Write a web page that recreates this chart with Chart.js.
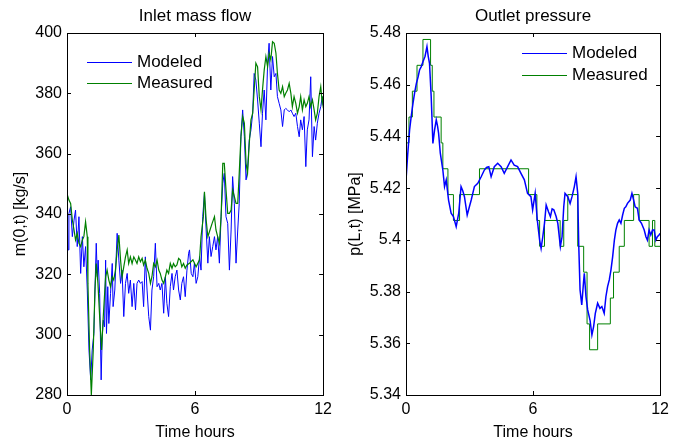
<!DOCTYPE html>
<html>
<head>
<meta charset="UTF-8">
<title>Inlet mass flow / Outlet pressure</title>
<script src="https://cdn.jsdelivr.net/npm/chart.js"></script>
<style>
    body { margin: 0; background: #fff; }
    .box { position: absolute; top: 0; width: 337px; height: 444px; }
</style>
</head>
<body>
<div class="box" style="left:0"><canvas id="chartFlow" width="337" height="444"></canvas></div>
<div class="box" style="left:337px"><canvas id="chartPress" width="337" height="444"></canvas></div>
<script>
// time axis (hours)
var timeTicks = [0, 6, 12];

// inlet mass flow [kg/s]
var flowTicks = [280, 300, 320, 340, 360, 380, 400];
var flowModT = [0, 0.02, 0.05, 0.09, 0.17, 0.25, 0.33, 0.40, 0.48, 0.56, 0.64, 0.72, 0.79, 0.87, 0.95, 1.03, 1.11, 1.18, 1.26, 1.31,
    1.37, 1.42, 1.46, 1.53, 1.60, 1.65, 1.70, 1.76, 1.81, 1.85, 1.91, 1.96, 2.04, 2.12, 2.16, 2.24, 2.35, 2.43, 2.51, 2.58,
    2.66, 2.74, 2.82, 2.89, 2.97, 3.05, 3.13, 3.21, 3.28, 3.36, 3.44, 3.52, 3.59, 3.67, 3.75, 3.83, 3.91, 3.98, 4.06, 4.14,
    4.22, 4.30, 4.37, 4.45, 4.53, 4.61, 4.68, 4.76, 4.84, 4.92, 4.99, 5.07, 5.15, 5.23, 5.31, 5.38, 5.46, 5.54, 5.62, 5.70,
    5.74, 5.82, 5.90, 5.97, 6.05, 6.13, 6.21, 6.28, 6.36, 6.44, 6.52, 6.60, 6.67, 6.75, 6.83, 6.91, 6.98, 7.06, 7.14, 7.22,
    7.30, 7.37, 7.45, 7.53, 7.61, 7.69, 7.76, 7.84, 7.92, 8.00, 8.07, 8.15, 8.23, 8.31, 8.39, 8.46, 8.54, 8.62, 8.70, 8.77,
    8.85, 8.93, 9.01, 9.09, 9.16, 9.24, 9.32, 9.40, 9.47, 9.55, 9.63, 9.71, 9.79, 9.86, 9.94, 10.02, 10.10, 10.18, 10.25, 10.33,
    10.41, 10.49, 10.56, 10.64, 10.72, 10.80, 10.88, 10.95, 11.03, 11.11, 11.19, 11.26, 11.34, 11.42, 11.50, 11.58, 11.65, 11.73, 11.81, 11.89,
    11.96, 12.0];
var flowModV = [328.0, 336.9, 328.1, 340.2, 342.4, 332.5, 338.0, 341.3, 329.2, 339.1, 320.3, 332.5, 322.5, 329.2, 314.8, 294.9, 285.0, 294.9, 300.4, 314.8,
    330.3, 319.2, 324.7, 313.7, 285.0, 299.3, 304.8, 302.6, 324.7, 300.4, 315.9, 303.7, 313.7, 323.6, 309.3, 314.8, 333.6, 324.7, 317.0, 321.4,
    306.0, 317.0, 320.3, 313.7, 318.1, 309.3, 317.0, 308.2, 317.0, 318.1, 317.0, 317.6, 309.3, 325.8, 314.8, 306.0, 301.5, 314.8, 319.2, 330.3,
    315.9, 317.0, 314.8, 317.0, 307.1, 319.2, 310.4, 306.0, 315.9, 320.3, 314.8, 319.2, 321.4, 314.8, 311.5, 317.0, 319.2, 312.6, 321.4, 327.0,
    328.1, 320.3, 319.2, 323.7, 317.0, 319.2, 325.9, 321.4, 339.1, 346.9, 334.7, 323.7, 332.5, 325.9, 329.2, 332.5, 328.1, 332.5, 323.7, 339.1,
    350.2, 353.5, 339.1, 336.9, 321.4, 334.7, 352.4, 343.5, 323.7, 334.7, 343.5, 365.6, 374.5, 365.6, 351.3, 354.6, 364.5, 367.9, 373.4, 386.6,
    384.4, 377.8, 370.1, 362.3, 373.4, 381.1, 371.2, 390.0, 396.6, 381.1, 392.2, 385.5, 386.6, 378.9, 376.7, 374.5, 369.0, 374.5, 375.0, 374.5,
    373.9, 374.5, 373.4, 372.3, 373.4, 369.0, 365.6, 371.2, 367.9, 372.3, 355.7, 367.9, 371.2, 385.5, 359.0, 369.0, 364.5, 370.1, 373.4, 375.6,
    378.9, 376.0];
var flowMeasT = [0, 0.02, 0.09, 0.17, 0.25, 0.33, 0.40, 0.48, 0.56, 0.64, 0.72, 0.79, 0.87, 0.95, 0.98, 1.06, 1.14, 1.23, 1.31, 1.37,
    1.45, 1.53, 1.62, 1.70, 1.81, 1.88, 1.96, 2.04, 2.12, 2.19, 2.27, 2.35, 2.43, 2.51, 2.58, 2.66, 2.74, 2.82, 2.89, 2.97,
    3.05, 3.13, 3.21, 3.28, 3.36, 3.44, 3.52, 3.59, 3.67, 3.75, 3.83, 3.91, 3.98, 4.06, 4.14, 4.22, 4.30, 4.37, 4.45, 4.53,
    4.61, 4.68, 4.76, 4.84, 4.92, 4.99, 5.07, 5.15, 5.23, 5.31, 5.38, 5.46, 5.54, 5.62, 5.74, 5.90, 6.05, 6.21, 6.28, 6.39,
    6.44, 6.52, 6.60, 6.70, 6.80, 6.91, 6.98, 7.06, 7.14, 7.22, 7.30, 7.37, 7.45, 7.53, 7.61, 7.69, 7.76, 7.84, 7.92, 8.00,
    8.07, 8.15, 8.23, 8.31, 8.39, 8.46, 8.54, 8.62, 8.70, 8.77, 8.85, 8.93, 9.01, 9.09, 9.16, 9.24, 9.32, 9.40, 9.47, 9.55,
    9.63, 9.71, 9.79, 9.86, 9.94, 10.02, 10.10, 10.18, 10.25, 10.33, 10.41, 10.49, 10.56, 10.64, 10.72, 10.80, 10.88, 10.95, 11.03, 11.11,
    11.19, 11.26, 11.34, 11.42, 11.50, 11.58, 11.65, 11.73, 11.81, 11.89, 11.96, 12.0];
var flowMeasV = [338.0, 346.3, 344.6, 343.5, 338.0, 334.7, 331.4, 333.6, 330.3, 329.2, 331.4, 332.5, 337.4, 332.5, 317.0, 294.9, 280.0, 294.9, 314.8, 323.6,
    317.0, 306.0, 294.9, 306.0, 319.2, 321.4, 318.1, 315.9, 319.2, 318.1, 321.4, 328.1, 333.0, 324.7, 319.2, 322.5, 325.8, 328.1, 323.6, 325.8,
    323.6, 325.8, 324.7, 323.6, 325.8, 324.2, 325.3, 323.1, 324.7, 322.0, 320.3, 317.0, 319.2, 323.6, 322.5, 324.7, 321.4, 320.3, 318.1, 317.0,
    319.2, 321.4, 320.3, 323.6, 322.0, 323.6, 322.5, 323.1, 325.3, 324.7, 322.5, 323.6, 322.0, 323.1, 323.7, 324.8, 322.5, 324.8, 332.5, 339.1,
    347.4, 338.0, 332.5, 334.7, 336.9, 339.1, 334.7, 332.5, 330.3, 339.1, 356.8, 356.8, 348.0, 340.2, 340.2, 341.3, 348.0, 345.8, 343.5, 343.5,
    353.5, 365.6, 372.3, 370.1, 356.8, 353.5, 363.4, 371.2, 373.4, 381.1, 390.0, 388.8, 378.9, 374.5, 381.1, 387.7, 392.2, 388.8, 393.3, 391.1,
    397.1, 396.6, 393.3, 386.6, 381.1, 380.0, 382.2, 378.9, 380.0, 381.1, 383.3, 380.0, 375.6, 378.9, 376.7, 373.4, 375.6, 378.9, 374.5, 377.8,
    375.6, 376.7, 378.9, 375.6, 377.8, 374.5, 371.2, 373.4, 378.9, 382.2, 376.7, 379.0];

// outlet pressure [MPa]
var pressTicks = [5.34, 5.36, 5.38, 5.40, 5.42, 5.44, 5.46, 5.48];
var pressModT = [0, 0.08, 0.17, 0.25, 0.33, 0.41, 0.49, 0.57, 0.64, 0.72, 0.80, 0.90, 0.99, 1.05, 1.11, 1.19, 1.27, 1.35, 1.43, 1.49,
    1.54, 1.62, 1.74, 1.82, 1.90, 2.01, 2.13, 2.24, 2.37, 2.49, 2.60, 2.68, 2.76, 2.89, 3.00, 3.08, 3.23, 3.39, 3.55, 3.70,
    3.80, 3.91, 4.02, 4.17, 4.33, 4.49, 4.64, 4.80, 4.96, 5.11, 5.27, 5.43, 5.59, 5.74, 5.90, 5.98, 6.10, 6.20, 6.31, 6.38,
    6.46, 6.54, 6.62, 6.73, 6.82, 6.90, 6.98, 7.09, 7.17, 7.29, 7.37, 7.45, 7.51, 7.64, 7.75, 7.84, 7.95, 8.03, 8.11, 8.16,
    8.22, 8.30, 8.38, 8.42, 8.50, 8.58, 8.69, 8.78, 8.86, 8.94, 9.05, 9.16, 9.25, 9.36, 9.44, 9.52, 9.60, 9.68, 9.76, 9.84,
    9.91, 9.99, 10.07, 10.15, 10.23, 10.31, 10.38, 10.46, 10.59, 10.67, 10.75, 10.82, 10.93, 11.01, 11.12, 11.25, 11.33, 11.40, 11.48, 11.56,
    11.64, 11.72, 11.80, 11.87, 11.95, 12.0];
var pressModV = [5.4230, 5.4330, 5.4425, 5.4480, 5.4528, 5.4570, 5.4605, 5.4630, 5.4657, 5.4670, 5.4689, 5.4710, 5.4747, 5.4710, 5.4683, 5.4554, 5.4373, 5.4425, 5.4464, 5.4440,
    5.4412, 5.4335, 5.4270, 5.4206, 5.4232, 5.4154, 5.4103, 5.4090, 5.4051, 5.4103, 5.4206, 5.4190, 5.4167, 5.4096, 5.4130, 5.4154, 5.4206, 5.4219, 5.4244, 5.4270,
    5.4280, 5.4283, 5.4244, 5.4283, 5.4296, 5.4283, 5.4257, 5.4283, 5.4309, 5.4289, 5.4283, 5.4257, 5.4232, 5.4180, 5.4167, 5.4116, 5.4180, 5.4077, 5.3999, 5.3967,
    5.4012, 5.4064, 5.4135, 5.4109, 5.4090, 5.4120, 5.4116, 5.4090, 5.4064, 5.3974, 5.4012, 5.4128, 5.4180, 5.4167, 5.4141, 5.4167, 5.4206, 5.4244, 5.4180, 5.3974,
    5.3806, 5.3748, 5.3832, 5.3871, 5.3780, 5.3729, 5.3690, 5.3632, 5.3664, 5.3716, 5.3755, 5.3735, 5.3742, 5.3716, 5.3780, 5.3819, 5.3845, 5.3884, 5.3935, 5.3999,
    5.4038, 5.4064, 5.4077, 5.4064, 5.4096, 5.4122, 5.4128, 5.4141, 5.4154, 5.4180, 5.4154, 5.4128, 5.4122, 5.4077, 5.4064, 5.4038, 5.4012, 5.3999, 5.4038, 5.4019,
    5.4038, 5.4038, 5.3999, 5.4012, 5.4019, 5.4025];
var pressMeasT = [0, 0.14, 0.30, 0.52, 0.80, 1.16, 1.24, 1.32, 1.66, 1.74, 1.98, 2.24, 2.53, 3.47, 5.79, 6.18, 6.31, 6.54, 7.28, 7.45,
    7.64, 8.11, 8.39, 8.55, 8.67, 9.05, 9.65, 9.80, 10.07, 10.31, 10.75, 11.01, 11.48, 11.64, 11.75, 12.0];
var pressMeasV = [5.4375, 5.4475, 5.4575, 5.4675, 5.4775, 5.4675, 5.4575, 5.4475, 5.4375, 5.4275, 5.4175, 5.4075, 5.4175, 5.4275, 5.4175, 5.4075, 5.3975, 5.4075, 5.3975, 5.4075,
    5.4175, 5.3975, 5.3875, 5.3675, 5.3575, 5.3675, 5.3775, 5.3875, 5.3975, 5.4075, 5.4175, 5.4075, 5.3975, 5.4075, 5.3975, 5.3975];

var FONT = "'Liberation Sans', Arial, Helvetica, sans-serif";

function pares(xs, ys) {
    return xs.map(function (x, i) { return { x: x, y: ys[i] }; });
}

// moldura preta com ticks para dentro nos 4 lados (estilo matlab) + titulo centrado no grafico
var moldura = {
    id: 'moldura',
    afterDraw: function (chart, args, opts) {
        var ctx = chart.ctx, a = chart.chartArea;
        var sx = chart.scales.x, sy = chart.scales.y;
        ctx.save();
        ctx.strokeStyle = '#000';
        ctx.lineWidth = 1;
        ctx.beginPath();
        sx.ticks.forEach(function (t) {
            var px = Math.round(sx.getPixelForValue(t.value)) + 0.5;
            ctx.moveTo(px, a.bottom); ctx.lineTo(px, a.bottom - 4);
            ctx.moveTo(px, a.top); ctx.lineTo(px, a.top + 4);
        });
        sy.ticks.forEach(function (t) {
            var py = Math.round(sy.getPixelForValue(t.value)) + 0.5;
            ctx.moveTo(a.left, py); ctx.lineTo(a.left + 4, py);
            ctx.moveTo(a.right, py); ctx.lineTo(a.right - 4, py);
        });
        ctx.stroke();
        ctx.strokeRect(Math.round(a.left) + 0.5, Math.round(a.top) + 0.5, Math.round(a.right - a.left), Math.round(a.bottom - a.top));

        ctx.fillStyle = '#000';
        ctx.font = '17px ' + FONT;
        ctx.textAlign = 'center';
        ctx.textBaseline = 'middle';
        ctx.fillText(opts.titulo, (a.left + a.right) / 2, 16);
        ctx.restore();
    }
};

// legenda dentro do grafico, sem caixa
var legenda = {
    id: 'legenda',
    afterDraw: function (chart, args, opts) {
        var ctx = chart.ctx;
        ctx.save();
        ctx.font = '17px ' + FONT;
        ctx.textBaseline = 'middle';
        ctx.fillStyle = '#000';
        chart.data.datasets.forEach(function (ds, i) {
            var y = opts.y + i * opts.gap;
            ctx.strokeStyle = ds.borderColor;
            ctx.lineWidth = 1;
            ctx.beginPath();
            ctx.moveTo(opts.x, Math.round(y) + 0.5);
            ctx.lineTo(opts.x + 45, Math.round(y) + 0.5);
            ctx.stroke();
            ctx.fillText(ds.label, opts.x + 50, y);
        });
        ctx.restore();
    }
};

function montar(canvasId, titulo, yLabel, yTicks, yMin, yMax, yWidth, yTitlePad, dsets, leg, fmt) {
    return new Chart(document.getElementById(canvasId), {
        type: 'line',
        data: { datasets: dsets },
        options: {
            responsive: false,
            animation: false,
            events: [],
            layout: { autoPadding: false, padding: { left: 0, right: 13, top: 33, bottom: 0 } },
            elements: { point: { radius: 0 }, line: { tension: 0 } },
            plugins: {
                legend: { display: false },
                tooltip: { enabled: false },
                moldura: { titulo: titulo },
                legenda: leg
            },
            scales: {
                x: {
                    type: 'linear', min: 0, max: 12,
                    afterBuildTicks: function (s) { s.ticks = timeTicks.map(function (v) { return { value: v }; }); },
                    afterFit: function (s) { s.height = 49; },
                    grid: { display: false, drawTicks: false },
                    border: { display: false },
                    ticks: { color: '#000', padding: 5, maxRotation: 0, font: { family: FONT, size: 16 } },
                    title: { display: true, text: 'Time hours', color: '#000', font: { family: FONT, size: 16 }, padding: { top: 0, bottom: 2 } }
                },
                y: {
                    type: 'linear', min: yMin, max: yMax,
                    afterBuildTicks: function (s) { s.ticks = yTicks.map(function (v) { return { value: v }; }); },
                    afterFit: function (s) { s.width = yWidth; },
                    grid: { display: false, drawTicks: false },
                    border: { display: false },
                    ticks: { color: '#000', padding: 5, font: { family: FONT, size: 16 }, callback: fmt },
                    title: { display: true, text: yLabel, color: '#000', font: { family: FONT, size: 16 }, padding: { top: yTitlePad, bottom: 0 } }
                }
            }
        },
        plugins: [moldura, legenda]
    });
}

montar('chartFlow', 'Inlet mass flow', 'm(0,t) [kg/s]', flowTicks, 280, 400, 67, 11, [
    { label: 'Modeled', data: pares(flowModT, flowModV), borderColor: '#0000ff', borderWidth: 1, order: 1 },
    { label: 'Measured', data: pares(flowMeasT, flowMeasV), borderColor: '#008000', borderWidth: 1.2, order: 0 }
], { x: 87, y: 62, gap: 21 }, function (v) { return String(v); });

montar('chartPress', 'Outlet pressure', 'p(L,t) [MPa]', pressTicks, 5.34, 5.48, 69, 9, [
    { label: 'Modeled', data: pares(pressModT, pressModV), borderColor: '#0000ff', borderWidth: 1.5, order: 0 },
    { label: 'Measured', data: pares(pressMeasT, pressMeasV), borderColor: '#008000', borderWidth: 1, stepped: true, order: 1 }
], { x: 185, y: 53, gap: 22 }, function (v) { return String(Number(v.toFixed(2))); });
</script>
</body>
</html>
